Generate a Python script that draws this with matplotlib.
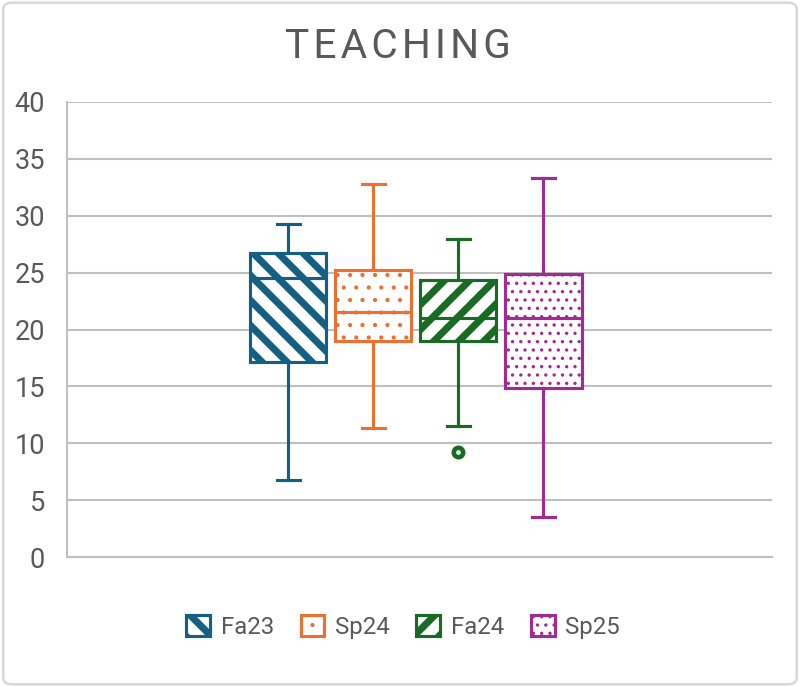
import matplotlib.pyplot as plt
from matplotlib.patches import Patch, FancyBboxPatch

# Datos (resumen de cada caja)
series = ["Fa23", "Sp24", "Fa24", "Sp25"]
whislo = [6.75, 11.3, 11.5, 3.5]
q1 = [17.1, 19.0, 19.0, 14.85]
med = [24.55, 21.5, 21.0, 21.05]
q3 = [26.75, 25.2, 24.35, 24.85]
whishi = [29.3, 32.8, 28.0, 33.3]
outliers = [[], [], [9.25], []]

colors = ["#156082", "#E97132", "#196B24", "#A02B93"]
hatches = ["\\\\", "..", "//", "..."]

yticks = [0, 5, 10, 15, 20, 25, 30, 35, 40]
gray = "#595959"

plt.rcParams["font.family"] = ["Roboto", "DejaVu Sans"]

fig = plt.figure(figsize=(800 / 150, 687 / 150), dpi=150)
ax = fig.add_axes([67 / 800, 1 - 557 / 687, 705 / 800, 455 / 687])

stats = []
for i in range(len(series)):
    stats.append({"label": series[i], "whislo": whislo[i], "q1": q1[i], "med": med[i],
                  "q3": q3[i], "whishi": whishi[i], "fliers": outliers[i]})

positions = [0, 1, 2, 3]
bp = ax.bxp(stats, positions=positions, widths=0.9, capwidths=0.27, patch_artist=True,
            showfliers=True)


def hatch_lw(h):
    return 3.4 if ("/" in h or "\\" in h) else 0.8


for i, c in enumerate(colors):
    box = bp["boxes"][i]
    box.set_facecolor("white")
    box.set_edgecolor(c)
    box.set_linewidth(1.5)
    box.set_hatch(hatches[i])
    if hasattr(box, "set_hatch_linewidth"):
        box.set_hatch_linewidth(hatch_lw(hatches[i]))
    box.set_zorder(3)
    bp["medians"][i].set(color=c, linewidth=1.5, zorder=4)
    for w in bp["whiskers"][2 * i:2 * i + 2]:
        w.set(color=c, linewidth=1.5)
    for cap in bp["caps"][2 * i:2 * i + 2]:
        cap.set(color=c, linewidth=1.5)
    bp["fliers"][i].set(marker="o", markersize=4.5, markerfacecolor="white",
                        markeredgecolor=c, markeredgewidth=2.2)

ax.set_xlim(-2.6, 5.69)
ax.set_ylim(0, 40)
ax.set_yticks(yticks)
ax.set_xticks([])
ax.tick_params(axis="y", length=0, labelsize=13, labelcolor=gray, pad=10.5)
ax.yaxis.grid(True, color="#C0C0C0", linewidth=1.0)
ax.set_axisbelow(True)
for s in ["top", "right"]:
    ax.spines[s].set_visible(False)
for s in ["left", "bottom"]:
    ax.spines[s].set_color("#C0C0C0")
    ax.spines[s].set_linewidth(1.0)

# Titulo con espaciado entre letras
fig.text(0.4975, 1 - 47 / 687, "\u200a".join("TEACHING"), ha="center", va="center",
         fontsize=19.5, color=gray)

handles = []
for i in range(len(series)):
    handles.append(Patch(facecolor="white", edgecolor=colors[i], hatch=hatches[i],
                         linewidth=1.5, label=series[i]))
leg = fig.legend(handles=handles, loc="center", bbox_to_anchor=(0.504, 1 - 627 / 687),
                 ncol=4, frameon=False, fontsize=11.5, handlelength=1.0, handleheight=1.0,
                 handletextpad=0.45, columnspacing=1.1, labelcolor=gray)
for h in leg.legend_handles:
    if hasattr(h, "set_hatch_linewidth"):
        h.set_hatch_linewidth(hatch_lw(h.get_hatch()))

# Borde exterior
fig.patches.append(FancyBboxPatch((0.004, 0.004), 0.992, 0.992, boxstyle="round,pad=0,rounding_size=0.01",
                                  transform=fig.transFigure, facecolor="none",
                                  edgecolor="#D9D9D9", linewidth=1.2))

fig.savefig("out.png", dpi=150)
plt.close()
